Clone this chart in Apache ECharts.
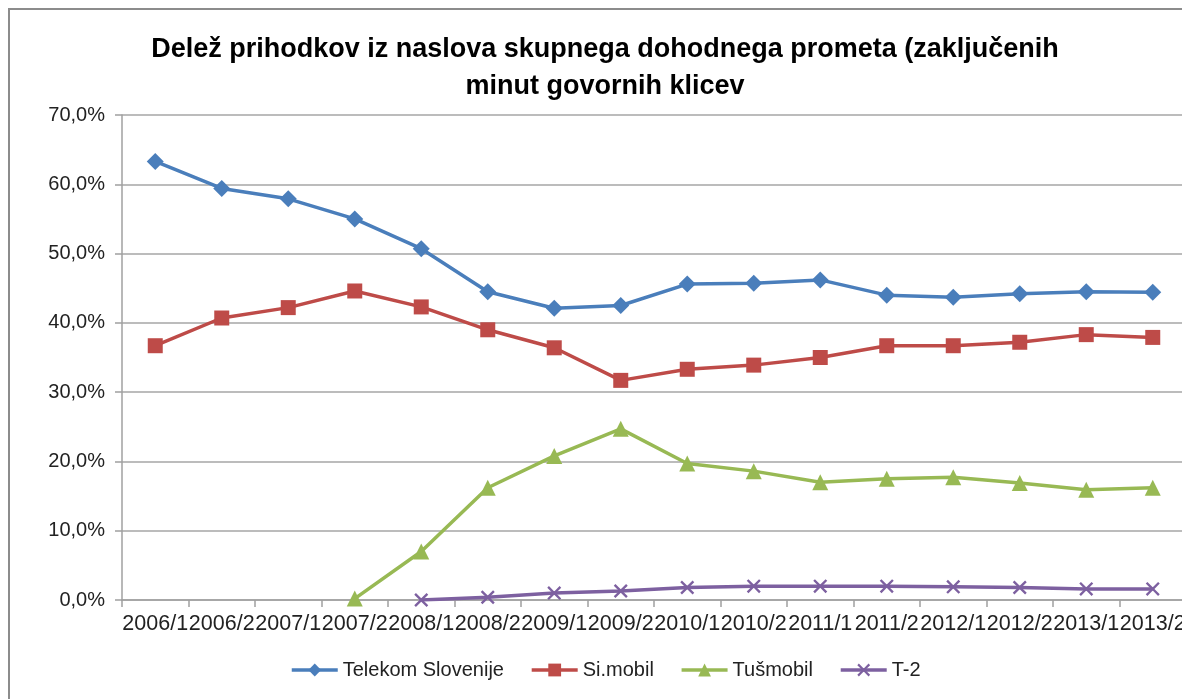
<!DOCTYPE html>
<html>
<head>
<meta charset="utf-8">
<script src="https://cdn.jsdelivr.net/npm/echarts@6/dist/echarts.min.js"></script>
<style>
html,body{margin:0;padding:0;background:#fff;}
#c{width:1182px;height:699px;}
</style>
</head>
<body>
<div id="c"></div>
<script>
const categories = ['2006/1','2006/2','2007/1','2007/2','2008/1','2008/2','2009/1','2009/2','2010/1','2010/2','2011/1','2011/2','2012/1','2012/2','2013/1','2013/2'];
const telekom = [63.3, 59.4, 57.9, 55.0, 50.7, 44.5, 42.1, 42.5, 45.6, 45.7, 46.2, 44.0, 43.7, 44.2, 44.5, 44.4];
const simobil = [36.7, 40.7, 42.2, 44.6, 42.3, 39.0, 36.4, 31.7, 33.3, 33.9, 35.0, 36.7, 36.7, 37.2, 38.3, 37.9];
const tusmobil = [null, null, null, 0.2, 7.0, 16.2, 20.8, 24.7, 19.7, 18.6, 17.0, 17.5, 17.7, 16.9, 15.9, 16.2];
const t2 = [null, null, null, null, 0.0, 0.4, 1.0, 1.3, 1.8, 2.0, 2.0, 2.0, 1.9, 1.8, 1.6, 1.6];
const seriesNames = ['Telekom Slovenije', 'Si.mobil', 'Tušmobil', 'T-2'];
const titleText = 'Delež prihodkov iz naslova skupnega dohodnega prometa (zaključenih\nminut govornih klicev';

const FONT = '"Liberation Sans", Arial, sans-serif';
const xPath = 'path://M0,1.2 L1.2,0 L5,3.8 L8.8,0 L10,1.2 L6.2,5 L10,8.8 L8.8,10 L5,6.2 L1.2,10 L0,8.8 L3.8,5 Z';

function mk(name, data, color, symbol, size) {
  return {
    name: name, type: 'line', data: data, symbol: symbol, symbolSize: size,
    showAllSymbol: true, connectNulls: false,
    lineStyle: {color: color, width: 3.5},
    itemStyle: {color: color},
    emphasis: {disabled: true}
  };
}

const chart = echarts.init(document.getElementById('c'));
chart.setOption({
  animation: false,
  textStyle: {fontFamily: FONT},
  title: {
    text: titleText, left: 600, top: 26, textAlign: 'center',
    textStyle: {fontFamily: FONT, fontSize: 27, fontWeight: 'bold', color: '#000', lineHeight: 37}
  },
  graphic: [{
    type: 'rect', shape: {x: 9, y: 9, width: 1300, height: 800},
    style: {fill: 'none', stroke: '#8c8c8c', lineWidth: 2}, silent: true
  }],
  legend: {
    left: 290, top: 660, padding: 0, itemGap: 26, itemWidth: 46, itemHeight: 16,
    lineStyle: {width: 3.5},
    textStyle: {fontFamily: FONT, fontSize: 20, color: '#222'},
    data: seriesNames
  },
  grid: {left: 122, top: 115, width: 1064, height: 485, containLabel: false, outerBoundsMode: 'none'},
  xAxis: {
    type: 'category', data: categories, boundaryGap: true,
    axisLine: {lineStyle: {color: '#a0a0a0', width: 1.5}},
    axisTick: {show: true, length: 7, interval: 0, lineStyle: {color: '#a0a0a0', width: 1.5}},
    axisLabel: {interval: 0, margin: 13, fontFamily: FONT, fontSize: 21.5, color: '#222', hideOverlap: false}
  },
  yAxis: {
    type: 'value', min: 0, max: 70, interval: 10,
    axisLine: {show: true, lineStyle: {color: '#a0a0a0', width: 1.5}},
    axisTick: {show: true, length: 7, lineStyle: {color: '#a0a0a0', width: 1.5}},
    splitLine: {lineStyle: {color: '#a6a6a6', width: 1.5}},
    axisLabel: {margin: 17, fontFamily: FONT, fontSize: 20, color: '#222',
      formatter: v => v.toFixed(1).replace('.', ',') + '%'}
  },
  series: [
    mk(seriesNames[0], telekom, '#4a7ebb', 'diamond', 17),
    mk(seriesNames[1], simobil, '#be4b48', 'rect', 15),
    mk(seriesNames[2], tusmobil, '#98b954', 'triangle', 16),
    mk(seriesNames[3], t2, '#7d60a0', xPath, 14)
  ]
});
</script>
</body>
</html>
